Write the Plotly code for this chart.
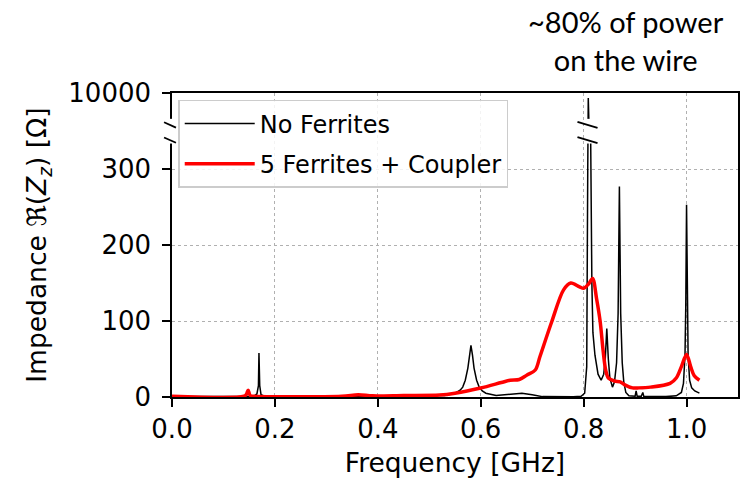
import plotly.graph_objects as go

# ---------------- data ----------------
freq_none = [0.0, 0.10, 0.15, 0.160, 0.165, 0.168, 0.169, 0.1705, 0.173, 0.18, 0.25, 0.35,
             0.45, 0.48, 0.50, 0.53, 0.55, 0.56, 0.565, 0.57, 0.575, 0.578, 0.581, 0.584,
             0.587, 0.592, 0.597, 0.603, 0.61, 0.63,
             0.66, 0.68, 0.70, 0.72, 0.78, 0.795, 0.802, 0.806, 0.808, 0.809, 0.8105,
             0.8135, 0.816, 0.818, 0.822, 0.828, 0.834, 0.839, 0.842, 0.845, 0.848, 0.851,
             0.856, 0.860, 0.864, 0.867, 0.8695, 0.872, 0.875, 0.878, 0.882, 0.888, 0.900,
             0.902, 0.904, 0.912, 0.915, 0.917, 0.96, 0.98, 0.99, 0.994, 0.997, 0.9985, 1.0,
             1.0015, 1.003, 1.006, 1.01, 1.016, 1.025]
imp_none = [0.5, 0.5, 0.8, 1.5, 4, 15, 58, 15, 3, 1, 0.5, 0.5,
            1, 3, 2, 2, 5, 9, 13, 22, 38, 55, 68, 55,
            38, 22, 13, 8, 5, 2,
            4, 5, 3, 0.5, 0.3, 1, 5, 40, 300, 9600, 500,
            700, 150, 85, 55, 30, 22, 30, 50, 90, 50, 25,
            13, 20, 45, 110, 277, 110, 45, 20, 6, 1.5, 1,
            8, 1, 1, 6, 0.5, 0.5, 1.5, 6, 18, 55, 120, 253,
            120, 55, 22, 12, 8, 5]

freq_ferr = [0.0, 0.14, 0.145, 0.148, 0.152, 0.16, 0.33, 0.362, 0.39, 0.45, 0.52, 0.55,
             0.60, 0.64, 0.657, 0.675, 0.69, 0.706, 0.715, 0.738, 0.761, 0.775, 0.792,
             0.80, 0.81, 0.8175, 0.825, 0.832, 0.838, 0.843, 0.848, 0.86, 0.871, 0.88,
             0.895, 0.906, 0.93, 0.968, 0.98, 0.99, 1.0, 1.008, 1.015, 1.025]
imp_ferr = [1, 1, 4, 9, 2, 1, 1, 3, 1.5, 2, 2.6, 5,
            11.8, 19, 22, 23, 29, 35.5, 53, 99, 141, 150, 145,
            143, 149, 156, 130, 100, 60, 35, 25, 21, 20, 16,
            12, 12, 13, 18, 25, 40, 56, 40, 28, 22]

names = ["No Ferrites", "5 Ferrites + Coupler"]
y_tickvals = [0, 100, 200, 300, 10000]
x_tickvals = [0.0, 0.2, 0.4, 0.6, 0.8, 1.0]

# broken axis: lower segment 0..333, gap, upper segment 8000..10000
LOW_TOP = 333
GAP_TOP = 367
UP_LO, UP_HI = 8000, 10000
AX_TOP = 400


def to_disp(v):
    if v <= LOW_TOP:
        return v
    if v < UP_LO:
        return (LOW_TOP + GAP_TOP) / 2 + 5
    return GAP_TOP + (AX_TOP - GAP_TOP) * (v - UP_LO) / (UP_HI - UP_LO)


FONT = "DejaVu Sans"
fig = go.Figure()
fig.add_trace(go.Scatter(x=freq_none, y=[to_disp(v) for v in imp_none], mode="lines",
                         line=dict(color="black", width=1.5), name=names[0],
                         legendgroup="a"))
fig.add_trace(go.Scatter(x=freq_ferr, y=[to_disp(v) for v in imp_ferr], mode="lines",
                         line=dict(color="#ff0000", width=3.5, shape="spline", smoothing=0.9),
                         name=names[1], legendgroup="b"))

# break marks (white gaps + slashes)
peak_x = freq_none[imp_none.index(max(imp_none))]
gap_lo, gap_hi = LOW_TOP + 0.5, GAP_TOP - 1
fig.add_shape(type="rect", xref="paper", yref="y", x0=-0.012, x1=0.012, y0=gap_lo, y1=gap_hi,
              fillcolor="white", line_width=0, layer="above")
fig.add_shape(type="rect", xref="x", yref="y", x0=peak_x - 0.005, x1=peak_x + 0.009,
              y0=gap_lo, y1=gap_hi, fillcolor="white", line_width=0, layer="above")
for yc in [358, 338]:
    fig.add_shape(type="line", xref="paper", yref="y", x0=-0.014, x1=0.007,
                  y0=yc + 3.5, y1=yc - 3.5, line=dict(color="black", width=1.8))
    fig.add_shape(type="line", xref="x", yref="y", x0=peak_x - 0.021, x1=peak_x + 0.018,
                  y0=yc + 4, y1=yc - 4, line=dict(color="black", width=1.8))

fig.add_annotation(text="~80% of power<br>on the wire", xref="paper", yref="paper",
                   x=0.803, y=1.172, xanchor="center", yanchor="middle", showarrow=False,
                   font=dict(family="Lato", size=29, color="black"))

axis_common = dict(showline=True, linecolor="black", linewidth=1.5, mirror=True,
                   ticks="outside", ticklen=8, tickwidth=1.5, tickcolor="black",
                   showgrid=True, gridcolor="#b0b0b0", griddash="dot", gridwidth=1.3,
                   zeroline=False, tickfont=dict(family=FONT, size=26, color="black"))

fig.update_layout(
    width=756, height=484,
    margin=dict(l=172, r=18, t=93, b=87),
    paper_bgcolor="white", plot_bgcolor="white",
    font=dict(family=FONT, color="black"),
    xaxis=dict(range=[0, 1.1], tickvals=x_tickvals,
               ticktext=[f"{v:.1f}" for v in x_tickvals],
               title=dict(text="Frequency [GHz]", font=dict(family=FONT, size=26.5), standoff=10),
               **axis_common),
    yaxis=dict(range=[0, AX_TOP], tickvals=[0, 100, 200, 300, AX_TOP],
               ticktext=[str(v) for v in y_tickvals], ticklabelstandoff=6,
               title=dict(text="Impedance ℜ(<i>Z</i><sub><i>z</i></sub>) [Ω]",
                          font=dict(family=FONT, size=26.5), standoff=14),
               **axis_common),
    legend=dict(x=0.011, y=0.977, xanchor="left", yanchor="top",
                bgcolor="rgba(255,255,255,0.85)", bordercolor="#cccccc", borderwidth=1.5,
                font=dict(family=FONT, size=24, color="black"), tracegroupgap=6,
                itemwidth=70),
    showlegend=True,
)

fig.write_html("out.html")
